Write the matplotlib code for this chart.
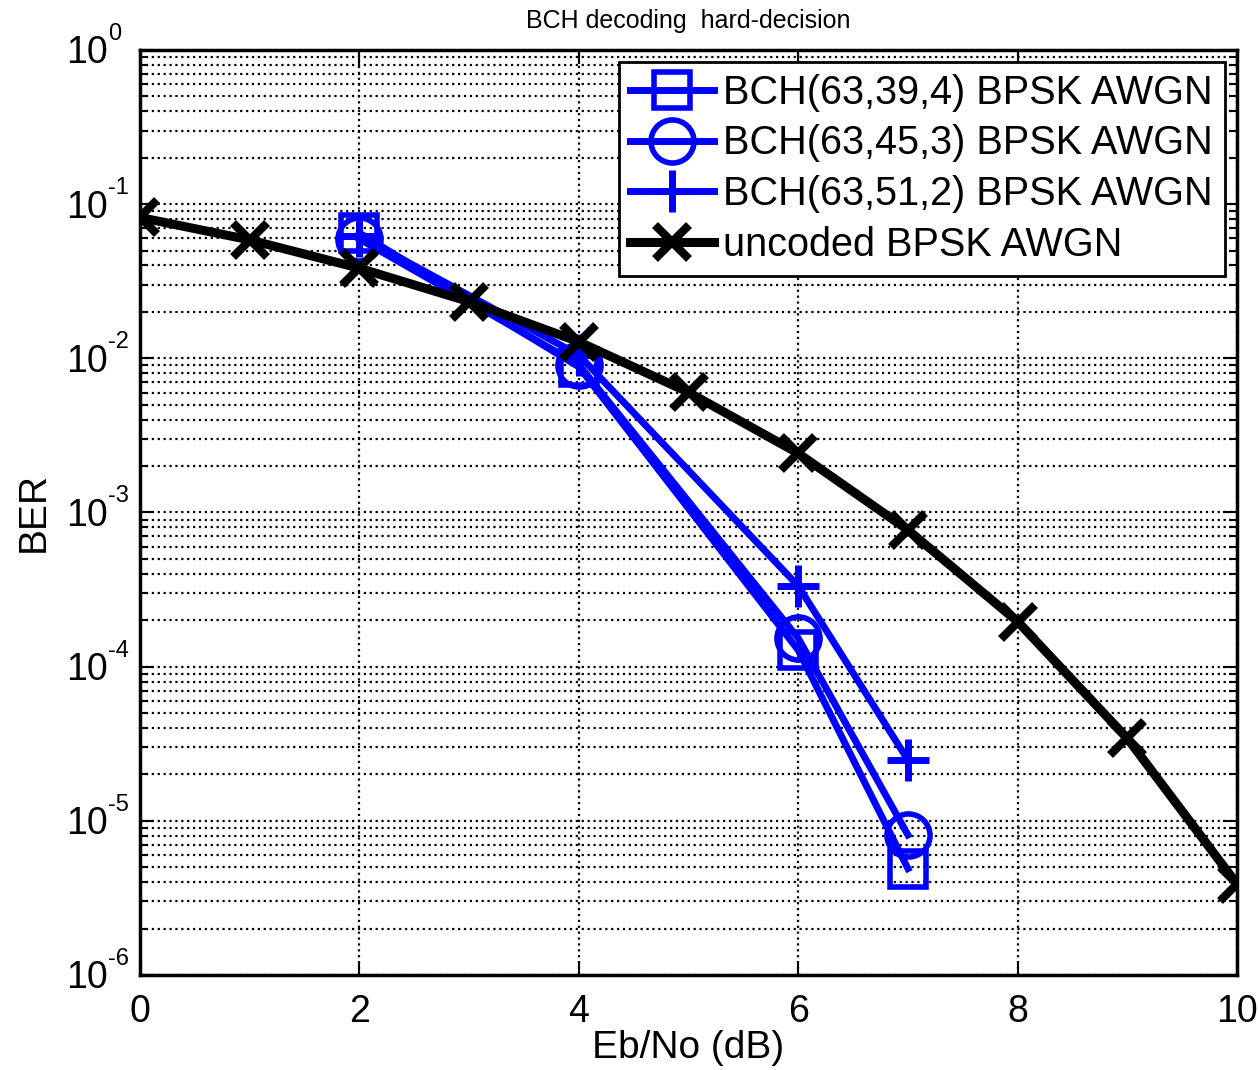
import matplotlib
matplotlib.use("Agg")
import matplotlib.pyplot as plt
import matplotlib.transforms as mtransforms
from matplotlib.ticker import LogLocator, NullFormatter, FixedLocator

plt.rcParams["font.family"] = ["Liberation Sans", "DejaVu Sans"]

# Eb/No values (dB)
ebno_bch = [2, 4, 6, 7]
ebno_uncoded = [0, 1, 2, 3, 4, 5, 6, 7, 8, 9, 10]

# BER
ber_bch_39 = [0.065, 0.0088, 1.28e-4, 4.9e-6]
ber_bch_45 = [0.0594, 0.0091, 1.53e-4, 8.1e-6]
ber_bch_51 = [0.0622, 0.0105, 3.34e-4, 2.48e-5]
ber_uncoded = [0.082, 0.0586, 0.0384, 0.0233, 0.0128, 0.00602,
               0.00242, 7.7e-4, 1.96e-4, 3.43e-5, 3.89e-6]

labels = ["BCH(63,39,4) BPSK AWGN", "BCH(63,45,3) BPSK AWGN",
          "BCH(63,51,2) BPSK AWGN", "uncoded BPSK AWGN"]
y_exponents = [0, -1, -2, -3, -4, -5, -6]

fig = plt.figure(figsize=(12.58, 10.70), dpi=100)
ax = fig.add_axes([0.1113, 0.0888, 0.872, 0.8645])

blue = "#0000ff"
ax.semilogy(ebno_bch, ber_bch_39, "-", marker="s", color=blue, lw=5,
            ms=26, mew=4, mfc="none", label=labels[0])
ax.semilogy(ebno_bch, ber_bch_45, "-", marker="o", color=blue, lw=5,
            ms=31, mew=4, mfc="none", label=labels[1])
ax.semilogy(ebno_bch, ber_bch_51, "-", marker="+", color=blue, lw=5,
            ms=30, mew=5, label=labels[2])
ax.semilogy(ebno_uncoded, ber_uncoded, "-", marker="x", color="black", lw=6.5,
            ms=25, mew=6, label=labels[3])

ax.set_xlim(0, 10)
ax.set_ylim(1e-6, 1)
ax.xaxis.set_major_locator(FixedLocator([0, 2, 4, 6, 8, 10]))
ax.yaxis.set_major_locator(LogLocator(base=10, numticks=10))
ax.yaxis.set_minor_locator(LogLocator(base=10, subs=range(2, 10), numticks=20))
ax.yaxis.set_major_formatter(NullFormatter())
ax.yaxis.set_minor_formatter(NullFormatter())

ax.grid(True, which="major", axis="both", color="black", linestyle=":", lw=1.6)
ax.grid(True, which="minor", axis="y", color="black", linestyle=":", lw=1.6)

ax.tick_params(which="both", direction="in", top=True, right=True,
               labelsize=27, width=1.5)
ax.tick_params(axis="x", pad=14)
ax.tick_params(which="major", length=10)
ax.tick_params(which="minor", length=6)
for s in ax.spines.values():
    s.set_linewidth(2.5)

# MATLAB-style y tick labels: "10" with a small raised exponent
trans = mtransforms.blended_transform_factory(ax.transAxes, ax.transData)
for e in y_exponents:
    base_off = mtransforms.ScaledTranslation(-0.32, -0.135, fig.dpi_scale_trans)
    exp_off = mtransforms.ScaledTranslation(-0.32, 0.10, fig.dpi_scale_trans)
    ax.text(0, 10.0 ** e, "10", fontsize=27, ha="right", va="baseline",
            transform=trans + base_off, clip_on=False)
    ax.text(0, 10.0 ** e, str(e), fontsize=17, ha="left", va="baseline",
            transform=trans + exp_off, clip_on=False)

ax.set_xlabel("Eb/No (dB)", fontsize=28, labelpad=0)
ax.set_ylabel("BER", fontsize=28, labelpad=60)
ax.set_title("BCH decoding  hard-decision", fontsize=18, pad=16)

leg = ax.legend(loc="upper right", fontsize=28.5, handlelength=2.1,
                handletextpad=0.25, borderaxespad=0.3, borderpad=0.3,
                labelspacing=0.32, fancybox=False, framealpha=1,
                edgecolor="black")
leg.get_frame().set_linewidth(2)

fig.savefig("out.png", dpi=100)
